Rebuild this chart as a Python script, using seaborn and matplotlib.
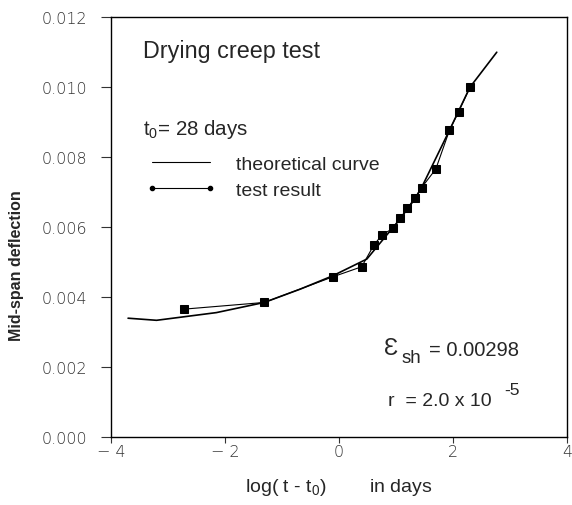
import matplotlib
matplotlib.use("Agg")
import matplotlib.pyplot as plt
import seaborn as sns
import pandas as pd
from matplotlib.lines import Line2D

# theoretical curve
theory_x = [-3.70, -3.20, -2.15, -1.31, -0.68, -0.11, 0.49, 0.78, 1.07, 1.33, 1.45, 1.94, 2.30, 2.77]
theory_y = [0.00340, 0.00334, 0.00356, 0.00385, 0.00423, 0.00461, 0.00509, 0.00566,
            0.00623, 0.00680, 0.00713, 0.00877, 0.01000, 0.01100]

# test results
test_x = [-2.71, -1.31, -0.11, 0.40, 0.61, 0.75, 0.95, 1.08, 1.20, 1.33, 1.45, 1.70, 1.94, 2.10, 2.30]
test_y = [0.00366, 0.00385, 0.00458, 0.00487, 0.00548, 0.00577, 0.00597, 0.00626,
          0.00654, 0.00683, 0.00713, 0.00766, 0.00877, 0.00930, 0.01000]

x_ticks = [-4, -2, 0, 2, 4]
y_ticks = [0.000, 0.002, 0.004, 0.006, 0.008, 0.010, 0.012]

df_th = pd.DataFrame({"x": theory_x, "y": theory_y})
df_ts = pd.DataFrame({"x": test_x, "y": test_y})

sns.set_style("ticks")
plt.rcParams["font.family"] = ["Liberation Sans", "DejaVu Sans"]
plt.rcParams["mathtext.fontset"] = "custom"
plt.rcParams["mathtext.rm"] = "Liberation Sans"
plt.rcParams["mathtext.it"] = "Liberation Sans"

fig = plt.figure(figsize=(5.72, 5.06), dpi=100)
ax = fig.add_axes([0.194, 0.134, 0.797, 0.830])

sns.lineplot(data=df_th, x="x", y="y", ax=ax, color="black", linewidth=1.2, sort=False)
sns.lineplot(data=df_ts, x="x", y="y", ax=ax, color="black", linewidth=0.8, sort=False,
             marker="s", markersize=6, markeredgecolor="black", markerfacecolor="black")

ax.set_xlim(-4, 4)
ax.set_ylim(0, 0.012)
ax.set_xticks(x_ticks)
ax.set_xticklabels(["\u2212 4", "\u2212 2", "0", "2", "4"])
ax.set_yticks(y_ticks)
ax.set_yticklabels([f"{v:.3f}" for v in y_ticks])
ax.tick_params(direction="out", width=0.8, colors="#333333")
ax.tick_params(axis="y", length=7, pad=10, labelsize=11.5)
ax.tick_params(axis="x", length=4, pad=1, labelsize=11.5)
for lab in ax.get_xticklabels() + ax.get_yticklabels():
    lab.set_family("DejaVu Sans")
    lab.set_fontweight("light")
for s in ax.spines.values():
    s.set_visible(True)
    s.set_linewidth(1.0)
    s.set_color("black")

ax.set_ylabel("Mid-span deflection", fontsize=11.5, fontweight="bold")
ax.yaxis.set_label_coords(-0.19, 0.41)
ax.set_xlabel(r"log( t - t$_0$)        in days", fontsize=14, labelpad=12)

ax.text(0.070, 0.921, "Drying creep test", transform=ax.transAxes, fontsize=16.8, va="center")
ax.text(0.070, 0.735, r"t$_0$= 28 days", transform=ax.transAxes, fontsize=14.8, va="center")

handles = [Line2D([0], [0], color="black", linewidth=0.8),
           Line2D([0], [0], color="black", linewidth=0.8, marker="o", markersize=3)]
ax.legend(handles, ["theoretical curve", "test result"], frameon=False, fontsize=14,
          loc="upper left", bbox_to_anchor=(0.060, 0.69), handlelength=3.6,
          handletextpad=1.0, labelspacing=0.45, numpoints=2, borderaxespad=0)

ax.text(0.598, 0.212, "Ɛ", transform=ax.transAxes, fontsize=17, va="center")
ax.text(0.638, 0.190, "sh", transform=ax.transAxes, fontsize=13.5, va="center")
ax.text(0.697, 0.210, "= 0.00298", transform=ax.transAxes, fontsize=14.5, va="center")
ax.text(0.608, 0.088, "r  = 2.0 x 10", transform=ax.transAxes, fontsize=14, va="center")
ax.text(0.862, 0.113, "-5", transform=ax.transAxes, fontsize=12.5, va="center")

fig.savefig("out.png", dpi=100)
